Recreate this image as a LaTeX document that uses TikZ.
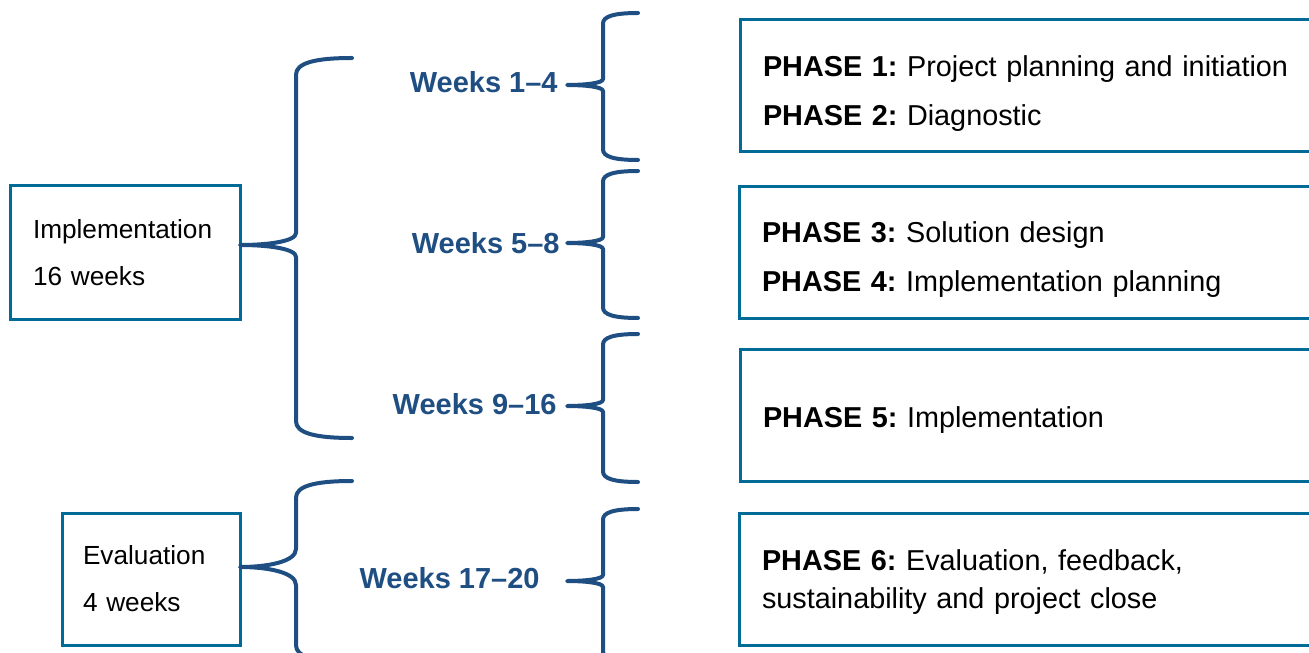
\documentclass[tikz,border=0pt]{standalone}
\usepackage{fontspec}
\setmainfont{Liberation Sans}
\frenchspacing

\definecolor{bracecol}{HTML}{1F4E82}
\definecolor{boxcol}{HTML}{006B96}

% tip x, tip y, spine x, top y, bottom y, end x, gap at the tip
\newcommand{\weekbrace}[7]{%
  \draw[bracestroke] (#6,#4)
    .. controls ({#3+0.3*(#6-#3)},#4) and (#3,{#4+0.1*(#6-#3)}) .. (#3,{#4+0.3*(#6-#3)})
    -- (#3,{#2-#7})
    .. controls (#3,{#2-0.3*#7}) and ({#3-0.5*(#3-#1)},#2) .. (#1,#2)
    .. controls ({#3-0.5*(#3-#1)},#2) and (#3,{#2+0.3*#7}) .. (#3,{#2+#7})
    -- (#3,{#5-0.3*(#6-#3)})
    .. controls (#3,{#5-0.1*(#6-#3)}) and ({#3+0.3*(#6-#3)},#5) .. (#6,#5);
}

\tikzset{
  bracestroke/.style={draw=bracecol, line width=2pt, line cap=round, line join=round},
  leftbox/.style={draw=boxcol, line width=1.5pt, align=left, font=\fontsize{13.1}{23.5}\selectfont},
  phasebox/.style={draw=boxcol, line width=1.5pt, align=left, inner xsep=11.5pt,
    minimum width=295pt, minimum height=66pt, text width=272pt, font=\fontsize{14.4}{24.5}\selectfont,
    execute at begin node={\rule{0pt}{#1}}},
  phasebox/.default=0pt,
  weeks/.style={text=bracecol, font=\bfseries\fontsize{14.5}{16}\selectfont, anchor=east, inner sep=0pt},
}

\begin{document}
\begin{tikzpicture}[x=0.5pt, y=-0.5pt]
    \useasboundingbox (0,0) rectangle (1309,652);
    \clip (0,0) rectangle (1309,652);

    % left boxes
    \node[leftbox, inner xsep=11.5pt, minimum width=115pt, minimum height=66.5pt, text width=92pt] (impl) at (125,252.5) {Implementation\\16 weeks};
    \node[leftbox, inner xsep=10.5pt, minimum width=89pt, minimum height=66pt, text width=68pt] (eval) at (151,579) {Evaluation\\4 weeks};

    % weeks
    \node[weeks] (w1) at (558,82) {Weeks 1--4};
    \node[weeks] (w2) at (560,243) {Weeks 5--8};
    \node[weeks] (w3) at (557,404) {Weeks 9--16};
    \node[weeks] (w4) at (540,578) {Weeks 17--20};

    % phases
    \node[phasebox=17.5pt] (p12) at (1035,86) {\textbf{PHASE 1:} Project planning and initiation\\\textbf{PHASE 2:} Diagnostic};
    \node[phasebox=17.5pt] (p34) at (1034,252.5) {\textbf{PHASE 3:} Solution design\\\textbf{PHASE 4:} Implementation planning};
    \node[phasebox=14.5pt] (p5) at (1035,415.5) {\textbf{PHASE 5:} Implementation};
    \node[phasebox=12.5pt, font=\fontsize{14.4}{19}\selectfont] (p6) at (1034,579.5) {\textbf{PHASE 6:} Evaluation, feedback,\\sustainability and project close};

    % braces
    \weekbrace{240}{245}{296}{58}{438}{352}{12}
    \weekbrace{240}{567}{296}{481}{662}{352}{18}
    \weekbrace{567}{85}{603}{13}{160}{638}{6}
    \weekbrace{567}{243}{603}{171}{318}{638}{6}
    \weekbrace{567}{406}{603}{334}{482}{638}{6}
    \weekbrace{567}{581}{603}{509}{662}{638}{6}

\end{tikzpicture}
\end{document}
